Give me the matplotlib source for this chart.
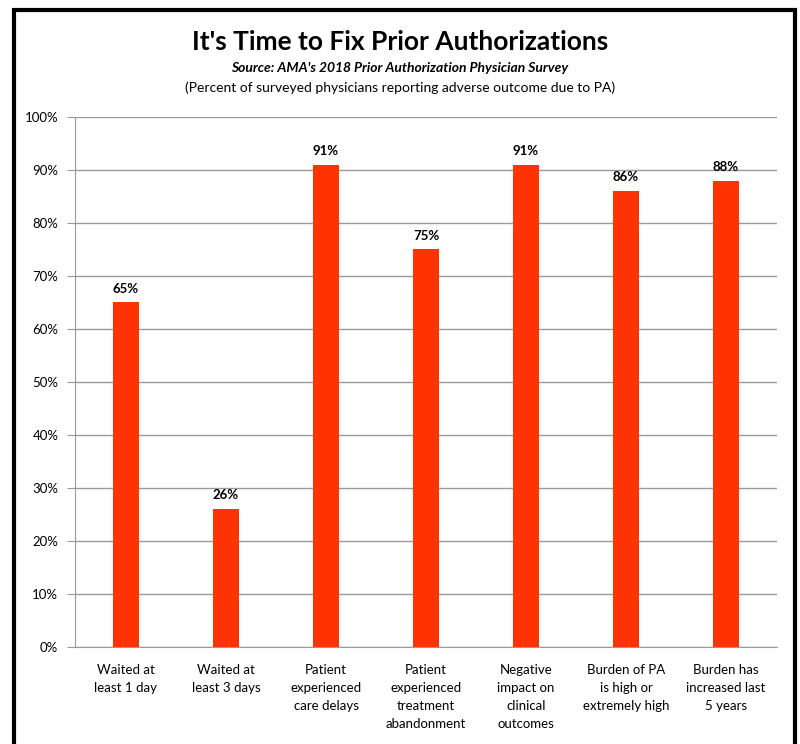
import matplotlib.pyplot as plt
from matplotlib.patches import Rectangle

categories = ['Waited at\nleast 1 day', 'Waited at\nleast 3 days', 'Patient\nexperienced\ncare delays',
              'Patient\nexperienced\ntreatment\nabandonment', 'Negative\nimpact on\nclinical\noutcomes',
              'Burden of PA\nis high or\nextremely high', 'Burden has\nincreased last\n5 years']
values = [65, 26, 91, 75, 91, 86, 88]
yticks = [0, 10, 20, 30, 40, 50, 60, 70, 80, 90, 100]

plt.rcParams['font.family'] = ['Lato', 'DejaVu Sans']

fig = plt.figure(figsize=(8, 7.44), dpi=100)
# black frame around the chart (bottom edge runs off the image)
fig.patches.append(Rectangle((0.0169, -0.02), 0.9765, 1.0066, transform=fig.transFigure,
                             fill=False, edgecolor='black', linewidth=3))

ax = fig.add_axes([0.09375, 0.1304, 0.8775, 0.7124])
x = list(range(len(values)))
ax.bar(x, values, width=0.26, color='#ff3300', zorder=3)
for xi, v in zip(x, values):
    ax.text(xi, v + 1.5, f'{v}%', ha='center', va='bottom', fontsize=9.5, fontweight='bold')

ax.set_xlim(-0.51, 6.51)
ax.set_ylim(0, 100)
ax.set_yticks(yticks)
ax.set_yticklabels([f'{t}%' for t in yticks], fontsize=9.5)
ax.grid(axis='y', color='#999999', linewidth=1, zorder=0)
ax.set_xticks(x)
ax.set_xticklabels(categories, fontsize=9.5, linespacing=1.6, va='top')
ax.tick_params(axis='x', length=0, pad=12)
ax.tick_params(axis='y', length=6, color='#999999', pad=6)
for s in ['top', 'right']:
    ax.spines[s].set_visible(False)
for s in ['left', 'bottom']:
    ax.spines[s].set_color('#999999')

fig.text(0.5, 0.9435, "It's Time to Fix Prior Authorizations", ha='center', va='center',
         fontsize=19, fontweight='bold')
fig.text(0.5, 0.9086, "Source: AMA's 2018 Prior Authorization Physician Survey", ha='center', va='center',
         fontsize=10, fontweight='bold', style='italic')
fig.text(0.5, 0.8817, "(Percent of surveyed physicians reporting adverse outcome due to PA)", ha='center',
         va='center', fontsize=10)

plt.savefig('out.png', dpi=100)
